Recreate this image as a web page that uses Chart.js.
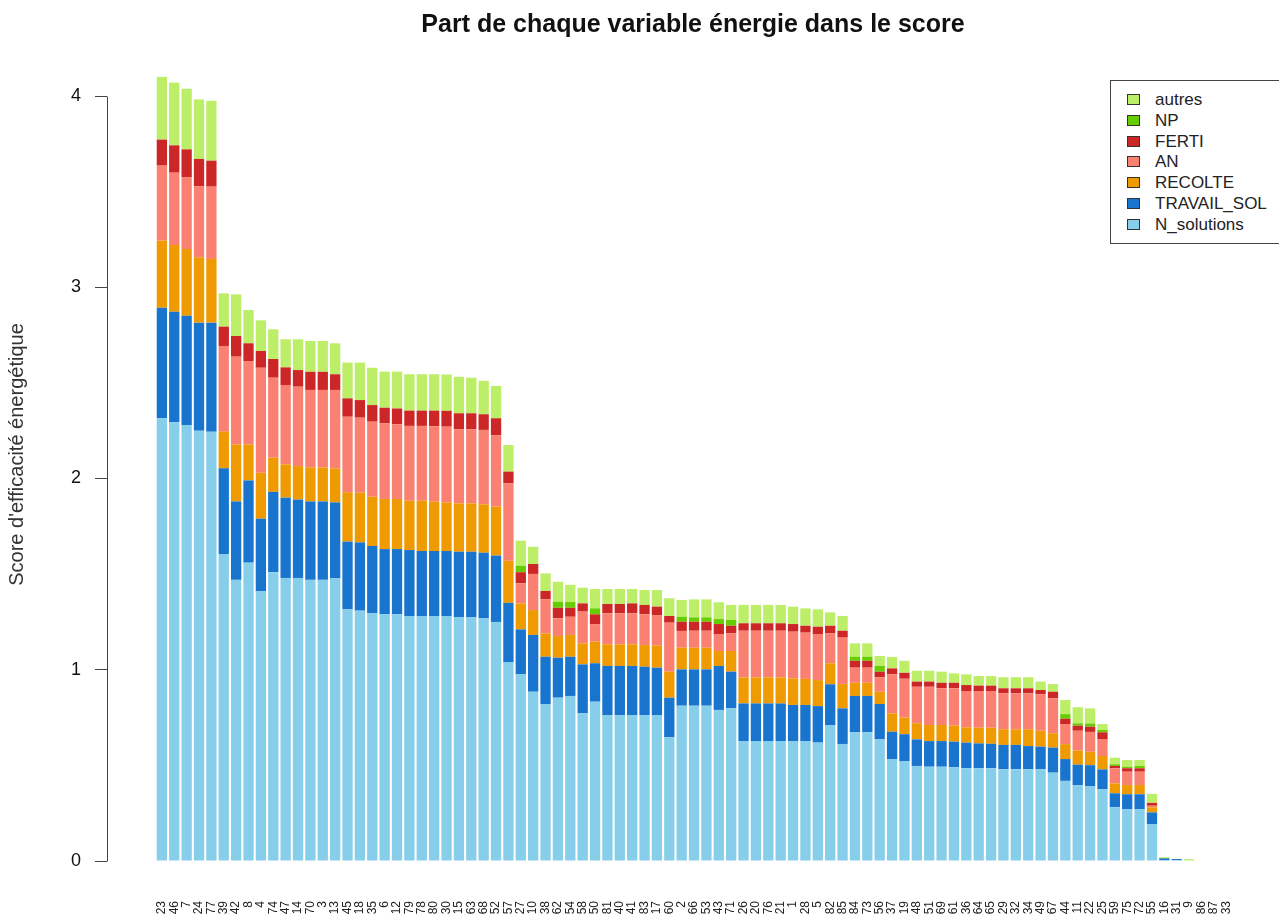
<!DOCTYPE html>
<html lang="fr">
<head>
<meta charset="utf-8">
<title>Part de chaque variable énergie dans le score</title>
<script src="https://cdn.jsdelivr.net/npm/chart.js@4.4.1/dist/chart.umd.min.js"></script>
<style>
  html, body { margin: 0; padding: 0; background: #fff; overflow: hidden; }
  #wrap { position: relative; width: 1279px; height: 914px; }
  #legend {
    position: absolute; left: 1110px; top: 80px; width: 190px; height: 164px;
    border: 1px solid #444; box-sizing: border-box; background: #fff;
    font: 17px 'Liberation Sans', Arial, sans-serif; color: #222;
  }
  .item { position: absolute; left: 0; height: 21px; line-height: 21px; white-space: nowrap; }
  .sw { position: absolute; left: 16px; top: 5px; width: 13px; height: 11px; border: 1px solid #333; box-sizing: border-box; }
  .lbl { position: absolute; left: 44px; }
</style>
</head>
<body>
<div id="wrap">
  <canvas id="chart" width="1279" height="914"></canvas>
  <div id="legend"></div>
</div>
<script>
// exploitations, triées par score décroissant
const labels = ['23','46','7','24','77','39','42','8','4','74','47','14','70','3','13','45','18','35','6','12',
  '79','78','80','30','15','63','68','52','57','27','10','38','62','54','58','50','81','40','41','83',
  '17','60','2','66','53','43','71','26','20','76','21','1','28','5','82','85','84','73','56','37',
  '19','48','51','69','61','36','64','65','29','32','34','49','67','44','11','22','25','59','75','72',
  '55','16','31','9','86','87','33'];

const nSolutions = [2.315, 2.294, 2.280, 2.250, 2.245, 1.605, 1.47, 1.56, 1.41, 1.51,
  1.48, 1.48, 1.47, 1.47, 1.478, 1.316, 1.309, 1.295, 1.290, 1.290,
  1.281, 1.281, 1.281, 1.281, 1.274, 1.274, 1.269, 1.25, 1.04, 0.976,
  0.885, 0.819, 0.854, 0.863, 0.772, 0.833, 0.763, 0.763, 0.763, 0.763,
  0.763, 0.647, 0.812, 0.812, 0.812, 0.790, 0.798, 0.627, 0.627, 0.627,
  0.627, 0.627, 0.627, 0.619, 0.711, 0.612, 0.673, 0.673, 0.636, 0.533,
  0.521, 0.497, 0.493, 0.493, 0.490, 0.485, 0.485, 0.485, 0.480, 0.480,
  0.480, 0.480, 0.462, 0.419, 0.397, 0.390, 0.376, 0.281, 0.270, 0.270,
  0.193, 0.004, 0.004, 0, 0, 0, 0];

const travailSol = [0.578, 0.578, 0.571, 0.565, 0.570, 0.448, 0.41, 0.43, 0.38, 0.42,
  0.42, 0.41, 0.41, 0.41, 0.397, 0.354, 0.357, 0.352, 0.341, 0.341,
  0.345, 0.340, 0.340, 0.340, 0.343, 0.343, 0.343, 0.347, 0.31, 0.235,
  0.297, 0.249, 0.209, 0.205, 0.256, 0.201, 0.257, 0.257, 0.257, 0.253,
  0.248, 0.207, 0.190, 0.190, 0.190, 0.230, 0.192, 0.197, 0.197, 0.197,
  0.197, 0.189, 0.189, 0.191, 0.213, 0.186, 0.190, 0.190, 0.185, 0.143,
  0.142, 0.139, 0.134, 0.134, 0.134, 0.134, 0.130, 0.128, 0.127, 0.127,
  0.121, 0.118, 0.131, 0.114, 0.107, 0.111, 0.103, 0.073, 0.079, 0.079,
  0.061, 0.010, 0.006, 0, 0, 0, 0];

const recolte = [0.351, 0.349, 0.349, 0.342, 0.333, 0.192, 0.298, 0.188, 0.24, 0.179,
  0.174, 0.175, 0.178, 0.178, 0.178, 0.258, 0.260, 0.258, 0.262, 0.262,
  0.258, 0.263, 0.258, 0.254, 0.253, 0.253, 0.253, 0.256, 0.22, 0.136,
  0.130, 0.122, 0.113, 0.114, 0.110, 0.113, 0.113, 0.113, 0.113, 0.113,
  0.115, 0.136, 0.113, 0.113, 0.113, 0.078, 0.108, 0.136, 0.136, 0.136,
  0.136, 0.139, 0.136, 0.136, 0.110, 0.127, 0.069, 0.069, 0.064, 0.096,
  0.087, 0.084, 0.084, 0.084, 0.084, 0.080, 0.082, 0.084, 0.082, 0.082,
  0.088, 0.083, 0.075, 0.078, 0.073, 0.070, 0.070, 0.052, 0.048, 0.048,
  0.027, 0, 0, 0, 0, 0, 0];

const an = [0.392, 0.378, 0.376, 0.371, 0.378, 0.448, 0.459, 0.436, 0.549, 0.418,
  0.415, 0.415, 0.405, 0.405, 0.410, 0.395, 0.392, 0.392, 0.395, 0.390,
  0.391, 0.391, 0.394, 0.396, 0.387, 0.387, 0.389, 0.374, 0.405, 0.105,
  0.189, 0.178, 0.093, 0.095, 0.166, 0.092, 0.162, 0.162, 0.162, 0.161,
  0.160, 0.256, 0.088, 0.089, 0.089, 0.089, 0.092, 0.244, 0.244, 0.244,
  0.244, 0.244, 0.242, 0.241, 0.156, 0.243, 0.079, 0.079, 0.075, 0.204,
  0.203, 0.191, 0.200, 0.192, 0.195, 0.190, 0.192, 0.192, 0.188, 0.188,
  0.188, 0.191, 0.183, 0.105, 0.104, 0.104, 0.089, 0.079, 0.070, 0.070,
  0.008, 0, 0, 0, 0, 0, 0];

const ferti = [0.136, 0.143, 0.145, 0.143, 0.136, 0.101, 0.108, 0.093, 0.088, 0.098,
  0.092, 0.087, 0.095, 0.095, 0.082, 0.096, 0.092, 0.087, 0.082, 0.083,
  0.080, 0.080, 0.082, 0.083, 0.084, 0.084, 0.082, 0.088, 0.061, 0.058,
  0.052, 0.044, 0.055, 0.047, 0.043, 0.051, 0.049, 0.049, 0.052, 0.049,
  0.044, 0.035, 0.048, 0.047, 0.047, 0.052, 0.040, 0.039, 0.039, 0.039,
  0.039, 0.040, 0.036, 0.038, 0.040, 0.036, 0.036, 0.036, 0.030, 0.031,
  0.031, 0.027, 0.027, 0.029, 0.029, 0.031, 0.028, 0.028, 0.026, 0.026,
  0.026, 0.022, 0.034, 0.028, 0.027, 0.027, 0.035, 0.012, 0.018, 0.018,
  0.015, 0, 0, 0, 0, 0, 0];

const np = [0, 0, 0, 0, 0, 0, 0, 0, 0, 0,
  0, 0, 0, 0, 0, 0, 0, 0, 0, 0,
  0, 0, 0, 0, 0, 0, 0, 0, 0, 0.034,
  0, 0, 0.032, 0.030, 0, 0.031, 0, 0, 0, 0,
  0, 0, 0.026, 0.023, 0.023, 0.026, 0.030, 0, 0, 0,
  0, 0, 0, 0, 0, 0, 0.021, 0.021, 0.030, 0,
  0, 0, 0, 0, 0, 0, 0, 0, 0, 0,
  0, 0, 0, 0.024, 0.012, 0.017, 0.012, 0.009, 0.008, 0.012,
  0, 0, 0, 0, 0, 0, 0];

const autres = [0.328, 0.328, 0.317, 0.311, 0.313, 0.174, 0.218, 0.174, 0.160, 0.155,
  0.147, 0.161, 0.161, 0.161, 0.162, 0.187, 0.196, 0.195, 0.189, 0.193,
  0.190, 0.190, 0.190, 0.190, 0.191, 0.186, 0.175, 0.169, 0.139, 0.131,
  0.090, 0.092, 0.104, 0.090, 0.082, 0.101, 0.078, 0.078, 0.075, 0.078,
  0.087, 0.093, 0.088, 0.094, 0.094, 0.088, 0.079, 0.096, 0.096, 0.096,
  0.096, 0.091, 0.091, 0.091, 0.070, 0.077, 0.070, 0.070, 0.052, 0.060,
  0.063, 0.057, 0.057, 0.058, 0.049, 0.056, 0.050, 0.050, 0.058, 0.058,
  0.058, 0.044, 0.040, 0.074, 0.084, 0.079, 0.031, 0.034, 0.035, 0.031,
  0.047, 0.006, 0, 0.010, 0, 0, 0];

const seriesNames = ['N_solutions', 'TRAVAIL_SOL', 'RECOLTE', 'AN', 'FERTI', 'NP', 'autres'];
const seriesValues = [nSolutions, travailSol, recolte, an, ferti, np, autres];
const seriesColors = ['#87ceeb', '#1874cd', '#ee9a00', '#fa8072', '#cd2626', '#66cd00', '#bcee68'];
const yTicks = [0, 1, 2, 3, 4];

(function() {
  'use strict';

  const FONT = "'Liberation Sans', Arial, Helvetica, sans-serif";
  Chart.defaults.font.family = FONT;

  // axe y façon R : trait vertical seulement de 0 à 4
  const yAxisLine = {
    id: 'yAxisLine',
    afterDraw(chart) {
      const y = chart.scales.y;
      const ctx = chart.ctx;
      const x = Math.round(chart.chartArea.left) + 0.5;
      ctx.save();
      ctx.strokeStyle = '#444';
      ctx.lineWidth = 1;
      ctx.beginPath();
      ctx.moveTo(x, Math.round(y.getPixelForValue(yTicks[0])) + 0.5);
      ctx.lineTo(x, Math.round(y.getPixelForValue(yTicks[yTicks.length - 1])) + 0.5);
      ctx.stroke();
      ctx.restore();
    }
  };

  function renderLegend() {
    const box = document.getElementById('legend');
    const order = seriesNames.map((n, k) => k).reverse();
    box.innerHTML = order.map((k, row) => `
      <div class="item" style="top:${8 + row * 20.8}px">
        <span class="sw" style="background:${seriesColors[k]}"></span>
        <span class="lbl">${seriesNames[k]}</span>
      </div>
    `).join('');
  }

  function renderChart() {
    const ctx = document.getElementById('chart').getContext('2d');

    new Chart(ctx, {
      type: 'bar',
      data: {
        datasets: seriesNames.map((name, k) => ({
          label: name,
          data: seriesValues[k].map((v, i) => ({ x: i, y: v })),
          backgroundColor: seriesColors[k],
          borderWidth: 0,
          barPercentage: 0.833,
          categoryPercentage: 1
        }))
      },
      options: {
        responsive: false,
        animation: false,
        layout: { padding: 0 },
        plugins: {
          legend: { display: false },
          tooltip: { enabled: false },
          title: {
            display: true,
            fullSize: false,
            text: 'Part de chaque variable énergie dans le score',
            color: '#111',
            font: { size: 25, weight: 'bold' },
            padding: { top: 10, bottom: 8 }
          }
        },
        scales: {
          x: {
            type: 'linear',
            stacked: true,
            min: -3.89,
            max: 89.72,
            grid: { display: false },
            border: { display: false },
            afterBuildTicks: s => { s.ticks = labels.map((l, i) => ({ value: i })); },
            afterFit: s => { s.height = 53; },
            ticks: {
              autoSkip: false,
              minRotation: 90,
              maxRotation: 90,
              padding: 32,
              color: '#222',
              font: { size: 12 },
              callback: v => labels[v]
            }
          },
          y: {
            stacked: true,
            min: 0,
            max: 4.251,
            afterBuildTicks: s => { s.ticks = yTicks.map(v => ({ value: v })); },
            afterFit: s => { s.width = 107; },
            grid: { drawOnChartArea: false, drawTicks: true, tickLength: 12, color: '#444' },
            border: { display: false },
            ticks: { padding: 14, color: '#111', font: { size: 18 } },
            title: {
              display: true,
              text: "Score d'efficacité énergétique",
              color: '#333',
              font: { size: 20 },
              padding: { top: 5, bottom: 0 }
            }
          }
        }
      },
      plugins: [yAxisLine]
    });
  }

  renderLegend();
  renderChart();
})();
</script>
</body>
</html>
